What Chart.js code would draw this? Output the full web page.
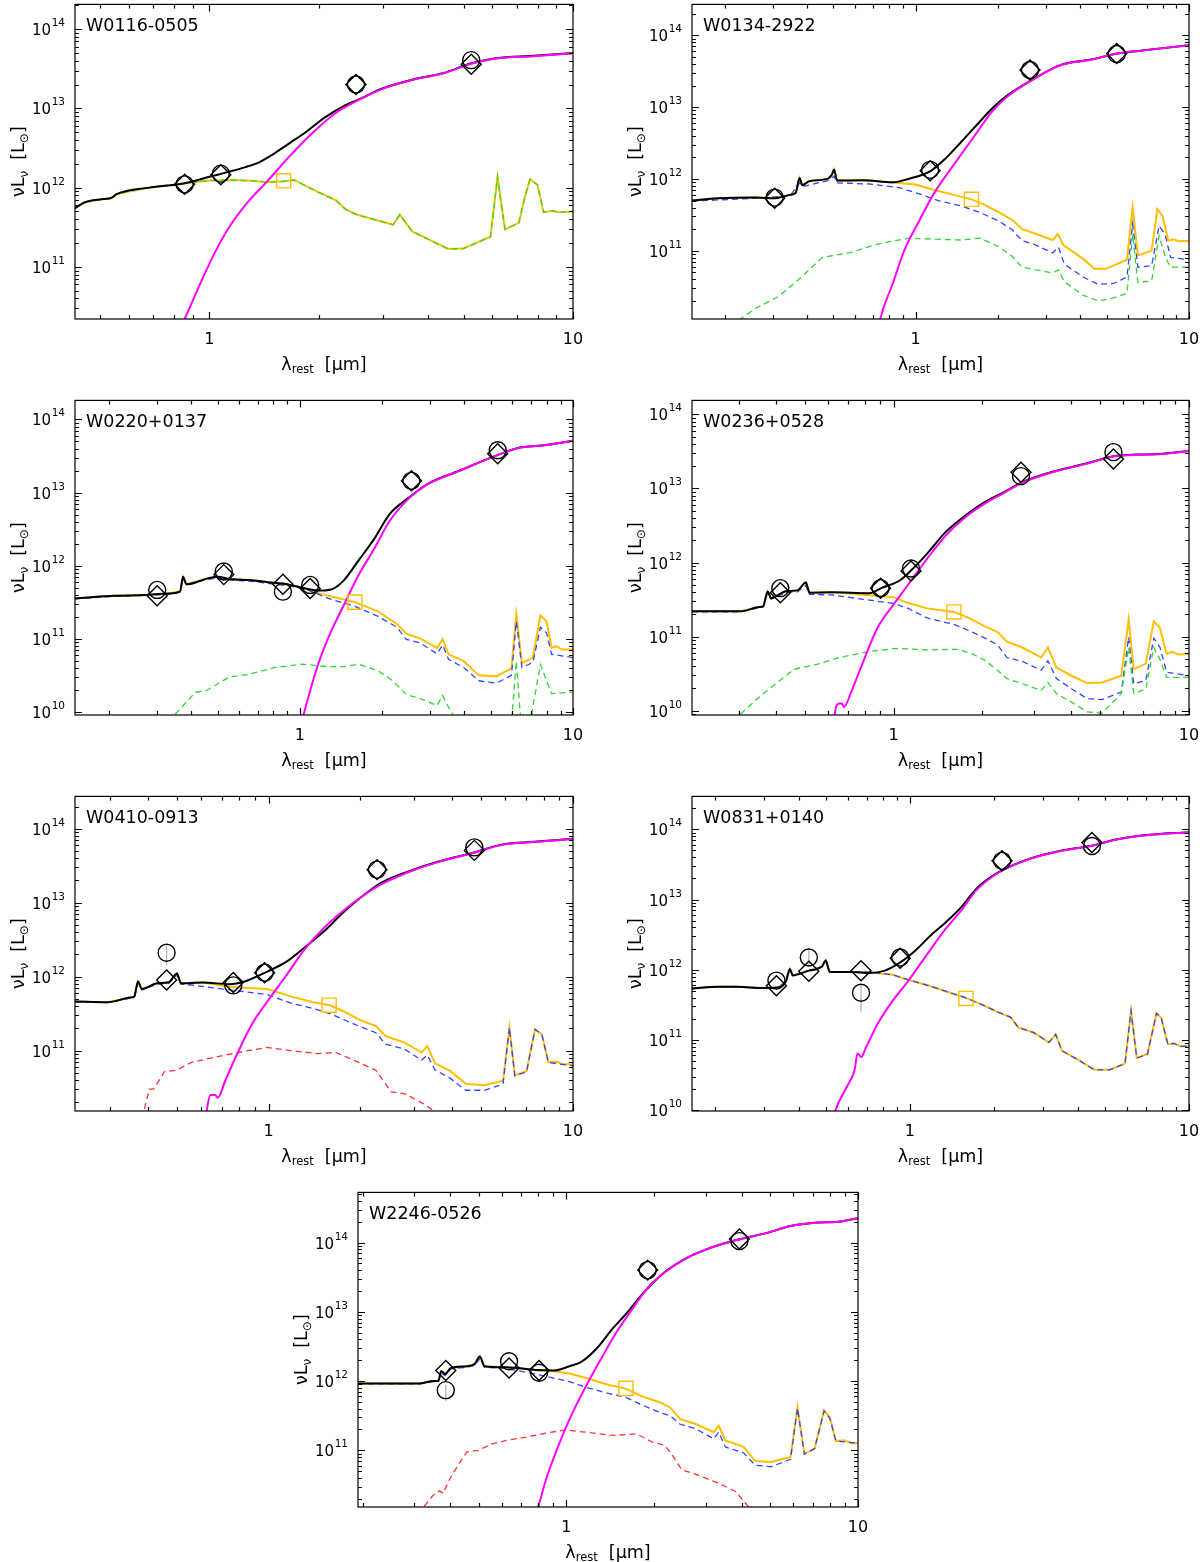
<!DOCTYPE html>
<html>
<head>
<meta charset="utf-8">
<script src="https://cdn.jsdelivr.net/npm/chart.js@4.4.1/dist/chart.umd.min.js"></script>
<style>
  html, body { margin: 0; padding: 0; background: #fff; }
  #page { position: relative; width: 1200px; height: 1562px; background: #fff; overflow: hidden; }
  .panel { position: absolute; }
</style>
</head>
<body>
<div id="page"></div>
<script>
// ---- tick labels ----
const yDecades = [1e9, 1e10, 1e11, 1e12, 1e13, 1e14, 1e15]
const yDecadeExp = ['9', '10', '11', '12', '13', '14', '15']
const xDecades = [0.1, 1, 10]
const xDecadeLabels = ['0.1', '1', '10']
const minorSteps = [2, 3, 4, 5, 6, 7, 8, 9]

// ---- W0116-0505 ----
const w0116HostLam = [0.427, 0.453, 0.50, 0.537, 0.556, 0.683, 0.85, 0.98, 1.13, 1.31, 1.44, 1.6, 1.71, 1.98, 2.23, 2.37, 2.54, 3.2, 3.34, 3.61, 4.54, 4.99, 5.93, 6.2, 6.5, 7.1, 7.36, 7.62, 7.99, 8.3, 8.8, 9.1, 10]
const w0116Host = [5.5e11, 6.5e11, 7.1e11, 7.4e11, 8.3e11, 1.0e12, 1.13e12, 1.22e12, 1.25e12, 1.22e12, 1.17e12, 1.2e12, 1.25e12, 8.9e11, 6.9e11, 5.3e11, 4.57e11, 3.4e11, 4.57e11, 2.8e11, 1.68e11, 1.7e11, 2.4e11, 1.37e12, 2.97e11, 3.6e11, 7.4e11, 1.28e12, 1.08e12, 4.9e11, 5.1e11, 4.9e11, 5.0e11]
const w0116TotLam = [0.427, 0.453, 0.50, 0.537, 0.556, 0.683, 0.85, 1.0, 1.13, 1.25, 1.375, 1.48, 1.67, 1.84, 2.07, 2.34, 2.57, 2.98, 3.61, 4.38, 5.25, 6.14, 7.8, 10]
const w0116Tot = [5.5e11, 6.5e11, 7.1e11, 7.4e11, 8.3e11, 1.0e12, 1.13e12, 1.37e12, 1.58e12, 1.8e12, 2.1e12, 2.55e12, 3.7e12, 5.0e12, 7.6e12, 1.07e13, 1.29e13, 1.77e13, 2.3e13, 2.77e13, 3.7e13, 4.3e13, 4.6e13, 5.0e13]
const w0116AgnLam = [0.82, 0.855, 0.935, 1.03, 1.13, 1.28, 1.44, 1.67, 1.93, 2.23, 2.57, 2.98, 3.61, 4.38, 5.25, 6.14, 7.8, 10]
const w0116Agn = [1.5e10, 2.2e10, 5.6e10, 1.45e11, 3.1e11, 6.7e11, 1.19e12, 2.55e12, 5.0e12, 8.8e12, 1.27e13, 1.75e13, 2.28e13, 2.75e13, 3.65e13, 4.25e13, 4.55e13, 4.95e13]
const w0116PhotLam = [0.855, 1.075, 2.53, 5.25]
const w0116Circ = [1.1e12, 1.5e12, 2.0e13, 4.06e13]
const w0116Diam = [1.1e12, 1.45e12, 2.0e13, 3.6e13]
const w0116SqLam = [1.6]
const w0116Sq = [1.22e12]

// ---- W0134-2922 ----
const w0134TotLam = [0.152, 0.189, 0.26, 0.305, 0.347, 0.364, 0.376, 0.385, 0.408, 0.478, 0.494, 0.503, 0.516, 0.64, 0.825, 0.94, 1.137, 1.29, 1.47, 1.67, 1.90, 2.16, 2.62, 3.38, 4.37, 5.47, 6.85, 10]
const w0134Tot = [5.0e11, 5.4e11, 5.5e11, 5.4e11, 6.0e11, 6.4e11, 1.03e12, 8.2e11, 9.3e11, 1.01e12, 1.15e12, 1.35e12, 9.5e11, 9.6e11, 9.0e11, 1.0e12, 1.3e12, 1.95e12, 3.3e12, 5.6e12, 9.5e12, 1.45e13, 2.3e13, 3.85e13, 4.6e13, 5.6e13, 6.2e13, 7.3e13]
const w0134AgnLam = [0.73, 0.742, 0.825, 0.908, 1.03, 1.17, 1.38, 1.62, 1.90, 2.16, 2.62, 3.38, 4.37, 5.47, 6.85, 10]
const w0134Agn = [8e9, 1.12e10, 3.5e10, 1.0e11, 2.6e11, 6.4e11, 1.58e12, 3.7e12, 8.6e12, 1.4e13, 2.28e13, 3.83e13, 4.58e13, 5.58e13, 6.18e13, 7.28e13]
const w0134HostLam = [0.152, 0.189, 0.26, 0.305, 0.347, 0.364, 0.376, 0.385, 0.408, 0.478, 0.494, 0.503, 0.516, 0.64, 0.725, 1.0, 1.17, 1.38, 1.6, 1.78, 2.03, 2.26, 2.45, 2.70, 3.17, 3.31, 3.47, 4.10, 4.51, 4.97, 5.93, 6.22, 6.5, 7.3, 7.66, 8.0, 8.4, 8.8, 9.2, 10]
const w0134Host = [5.0e11, 5.4e11, 5.5e11, 5.4e11, 6.0e11, 6.4e11, 1.03e12, 8.2e11, 9.3e11, 1.01e12, 1.15e12, 1.35e12, 9.5e11, 9.6e11, 9.3e11, 8.35e11, 7.0e11, 6.0e11, 5.2e11, 4.4e11, 3.4e11, 2.67e11, 2.0e11, 1.77e11, 1.41e11, 1.71e11, 1.2e11, 7.7e10, 5.6e10, 5.6e10, 7.5e10, 4.0e11, 8.6e10, 1.0e11, 3.8e11, 3.05e11, 1.38e11, 1.43e11, 1.36e11, 1.38e11]
const w0134OldLam = [0.152, 0.26, 0.347, 0.376, 0.385, 0.478, 0.503, 0.516, 0.68, 0.88, 1.03, 1.21, 1.47, 1.72, 2.03, 2.26, 2.45, 2.70, 3.17, 3.33, 3.5, 4.1, 4.66, 5.3, 5.93, 6.22, 6.5, 7.3, 7.77, 8.17, 8.56, 10]
const w0134Old = [4.9e11, 5.4e11, 5.8e11, 8.8e11, 7.8e11, 9.5e11, 1.09e12, 8.8e11, 8.5e11, 7.5e11, 6.2e11, 5.0e11, 4.2e11, 3.4e11, 2.55e11, 1.94e11, 1.38e11, 1.24e11, 9.3e10, 1.12e11, 6.5e10, 4.3e10, 3.4e10, 3.5e10, 4.3e10, 2.35e11, 5.9e10, 6.2e10, 2.22e11, 1.7e11, 8.1e10, 7.5e10]
const w0134YoungLam = [0.21, 0.26, 0.315, 0.382, 0.456, 0.58, 0.725, 0.94, 1.17, 1.47, 1.72, 2.03, 2.26, 2.45, 3.17, 3.33, 3.5, 4.1, 4.66, 5.3, 5.93, 6.22, 6.5, 7.3, 7.77, 8.2, 8.56, 10]
const w0134Young = [9e9, 1.58e10, 2.3e10, 4.3e10, 8.1e10, 9.5e10, 1.24e11, 1.5e11, 1.45e11, 1.41e11, 1.5e11, 1.12e11, 8.3e10, 5.9e10, 4.9e10, 5.4e10, 3.7e10, 2.4e10, 2.0e10, 2.2e10, 2.55e10, 1.7e11, 3.6e10, 3.8e10, 1.62e11, 8.1e10, 5.9e10, 5.9e10]
const w0134PhotLam = [0.305, 1.13, 2.62, 5.44]
const w0134Circ = [5.5e11, 1.34e12, 3.3e13, 5.5e13]
const w0134Diam = [5.4e11, 1.3e12, 3.3e13, 5.6e13]
const w0134SqLam = [1.6]
const w0134Sq = [5.2e11]

// ---- W0220+0137 ----
const w0220TotLam = [0.15, 0.21, 0.27, 0.33, 0.364, 0.373, 0.384, 0.456, 0.50, 0.553, 0.65, 0.76, 0.92, 1.05, 1.19, 1.31, 1.45, 1.64, 1.87, 2.13, 2.5, 2.93, 3.79, 5.23, 6.34, 7.7, 10]
const w0220Tot = [3.6e11, 3.9e11, 4.0e11, 4.2e11, 4.5e11, 7.1e11, 5.6e11, 6.7e11, 7.1e11, 6.6e11, 6.4e11, 6.0e11, 5.5e11, 4.9e11, 4.6e11, 4.8e11, 6.4e11, 1.19e12, 2.34e12, 5.1e12, 8.5e12, 1.31e13, 1.96e13, 3.21e13, 4.1e13, 4.4e13, 5.1e13]
const w0220AgnLam = [1.0, 1.03, 1.155, 1.27, 1.45, 1.64, 1.87, 2.13, 2.5, 2.93, 3.79, 5.23, 6.34, 7.7, 10]
const w0220Agn = [6e9, 9.2e9, 4.1e10, 1.04e11, 2.95e11, 7.5e11, 1.71e12, 4.1e12, 8.3e12, 1.3e13, 1.95e13, 3.2e13, 4.1e13, 4.4e13, 5.1e13]
const w0220HostLam = [0.15, 0.21, 0.27, 0.33, 0.364, 0.373, 0.384, 0.456, 0.50, 0.553, 0.65, 0.76, 0.92, 1.05, 1.12, 1.27, 1.59, 1.93, 2.27, 2.45, 2.75, 3.18, 3.33, 3.5, 3.98, 4.52, 5.23, 5.95, 6.2, 6.5, 7.13, 7.6, 8.0, 8.35, 8.7, 9.1, 10]
const w0220Host = [3.6e11, 3.9e11, 4.0e11, 4.2e11, 4.5e11, 7.1e11, 5.6e11, 6.7e11, 7.1e11, 6.6e11, 6.4e11, 6.0e11, 5.5e11, 4.9e11, 4.45e11, 3.9e11, 3.2e11, 2.4e11, 1.6e11, 1.19e11, 1.02e11, 7.6e10, 1.0e11, 6.2e10, 5.0e10, 3.2e10, 3.1e10, 4.0e10, 2.2e11, 4.7e10, 5.6e10, 2.1e11, 1.75e11, 7.6e10, 8.0e10, 7.2e10, 7.2e10]
const w0220OldLam = [0.15, 0.21, 0.27, 0.33, 0.364, 0.373, 0.384, 0.456, 0.50, 0.553, 0.65, 0.76, 0.92, 1.05, 1.27, 1.59, 1.93, 2.27, 2.45, 2.75, 3.18, 3.33, 3.5, 3.98, 4.52, 5.23, 5.95, 6.2, 6.5, 7.13, 7.6, 8.0, 8.35, 10]
const w0220Old = [3.55e11, 3.85e11, 3.95e11, 4.1e11, 4.4e11, 6.8e11, 5.5e11, 6.5e11, 6.9e11, 6.4e11, 6.2e11, 5.8e11, 5.3e11, 4.8e11, 3.6e11, 2.8e11, 2.05e11, 1.45e11, 9.9e10, 8.9e10, 6.3e10, 8.3e10, 5.3e10, 4.1e10, 2.7e10, 2.5e10, 3.2e10, 1.75e11, 4.1e10, 4.8e10, 1.45e11, 1.22e11, 6.2e10, 5.6e10]
const w0220YoungLam = [0.34, 0.347, 0.414, 0.456, 0.553, 0.65, 0.81, 1.02, 1.27, 1.45, 1.64, 1.93, 2.19, 2.45, 2.75, 3.18, 3.33, 3.5, 3.8, 5.95, 6.2, 6.45, 7.0, 7.13, 7.6, 8.0, 8.35, 10]
const w0220Young = [7e9, 9.2e9, 1.88e10, 2.0e10, 3.06e10, 3.3e10, 4.1e10, 4.55e10, 4.2e10, 4.2e10, 4.55e10, 3.7e10, 2.7e10, 1.75e10, 1.55e10, 1.24e10, 1.7e10, 1.18e10, 7e9, 7e9, 5.0e10, 7e9, 7e9, 1.2e10, 4.5e10, 2.7e10, 1.8e10, 1.9e10]
const w0220PhotLam = [0.30, 0.526, 0.866, 1.09, 2.56, 5.3]
const w0220Circ = [4.7e11, 8.4e11, 4.45e11, 5.5e11, 1.45e13, 3.8e13]
const w0220Diam = [3.9e11, 7.6e11, 5.6e11, 4.9e11, 1.45e13, 3.4e13]
const w0220SqLam = [1.59]
const w0220Sq = [3.2e11]

// ---- W0236+0528 ----
const w0236TotLam = [0.208, 0.254, 0.304, 0.352, 0.362, 0.375, 0.385, 0.433, 0.473, 0.505, 0.52, 0.618, 0.83, 0.91, 1.055, 1.15, 1.30, 1.5, 1.75, 2.03, 2.35, 2.73, 3.45, 4.38, 5.55, 6.63, 7.9, 10]
const w0236Tot = [2.2e11, 2.2e11, 2.2e11, 2.5e11, 2.55e11, 4.06e11, 3.3e11, 4.1e11, 4.2e11, 5.35e11, 3.9e11, 3.95e11, 3.85e11, 4.5e11, 5.8e11, 7.9e11, 1.32e12, 2.57e12, 4.3e12, 6.5e12, 8.8e12, 1.22e13, 1.68e13, 2.12e13, 2.72e13, 2.87e13, 2.92e13, 3.22e13]
const w0236AgnLam = [0.63, 0.64, 0.656, 0.668, 0.68, 0.72, 0.784, 0.883, 1.0, 1.12, 1.30, 1.5, 1.75, 2.03, 2.35, 2.73, 3.45, 4.38, 5.55, 6.63, 7.9, 10]
const w0236Agn = [8e9, 1.15e10, 1.24e10, 1.24e10, 1.12e10, 1.8e10, 4.25e10, 1.31e11, 2.7e11, 5.0e11, 1.13e12, 2.3e12, 4.1e12, 6.2e12, 8.6e12, 1.2e13, 1.66e13, 2.1e13, 2.7e13, 2.85e13, 2.9e13, 3.2e13]
const w0236HostLam = [0.208, 0.254, 0.304, 0.352, 0.362, 0.375, 0.385, 0.433, 0.473, 0.505, 0.52, 0.618, 0.656, 0.83, 1.0, 1.12, 1.30, 1.6, 1.8, 2.03, 2.25, 2.42, 2.73, 3.16, 3.33, 3.56, 4.0, 4.52, 5.08, 5.9, 6.25, 6.5, 7.14, 7.6, 7.98, 8.4, 8.8, 9.2, 10]
const w0236Host = [2.2e11, 2.2e11, 2.2e11, 2.5e11, 2.55e11, 4.06e11, 3.3e11, 4.1e11, 4.2e11, 5.35e11, 3.9e11, 3.95e11, 3.9e11, 3.6e11, 3.4e11, 2.83e11, 2.4e11, 2.15e11, 1.78e11, 1.38e11, 1.15e11, 8.5e10, 7.1e10, 5.2e10, 7.1e10, 3.8e10, 2.95e10, 2.35e10, 2.4e10, 2.95e10, 1.7e11, 3.6e10, 4.3e10, 1.6e11, 1.3e11, 5.8e10, 6.2e10, 5.7e10, 5.8e10]
const w0236OldLam = [0.208, 0.304, 0.352, 0.362, 0.375, 0.385, 0.433, 0.473, 0.505, 0.52, 0.618, 0.83, 1.0, 1.12, 1.30, 1.6, 1.8, 2.03, 2.25, 2.42, 2.73, 3.16, 3.33, 3.56, 4.0, 4.52, 5.08, 5.9, 6.25, 6.5, 7.14, 7.6, 7.98, 8.4, 10]
const w0236Old = [2.15e11, 2.15e11, 2.45e11, 2.5e11, 3.85e11, 3.2e11, 3.95e11, 4.0e11, 4.9e11, 3.7e11, 3.65e11, 3.1e11, 2.8e11, 2.4e11, 1.78e11, 1.46e11, 1.2e11, 9.6e10, 7.7e10, 5.2e10, 4.6e10, 3.5e10, 4.7e10, 2.7e10, 1.97e10, 1.45e10, 1.4e10, 1.78e10, 9.8e10, 2.3e10, 2.55e10, 9.5e10, 7.1e10, 3.3e10, 2.95e10]
const w0236YoungLam = [0.29, 0.30, 0.362, 0.46, 0.55, 0.656, 0.83, 1.02, 1.30, 1.65, 1.85, 2.03, 2.25, 2.42, 2.73, 3.16, 3.33, 3.56, 4.0, 4.52, 5.08, 5.9, 6.25, 6.5, 7.14, 7.6, 7.98, 8.4, 10]
const w0236Young = [7e9, 8.6e9, 1.69e10, 3.6e10, 4.2e10, 5.2e10, 6.3e10, 6.9e10, 6.6e10, 6.7e10, 5.8e10, 4.8e10, 3.5e10, 2.7e10, 2.3e10, 1.87e10, 2.4e10, 1.69e10, 1.3e10, 9.6e9, 9.2e9, 1.69e10, 7.1e10, 1.7e10, 1.95e10, 7.1e10, 4.9e10, 2.8e10, 2.8e10]
const w0236PhotLam = [0.414, 0.904, 1.146, 2.70, 5.55]
const w0236Circ = [4.5e11, 4.5e11, 8.3e11, 1.47e13, 3.1e13]
const w0236Diam = [3.9e11, 4.5e11, 7.7e11, 1.66e13, 2.5e13]
const w0236SqLam = [1.6]
const w0236Sq = [2.15e11]

// ---- W0410-0913 ----
const w0410TotLam = [0.231, 0.295, 0.351, 0.362, 0.372, 0.383, 0.43, 0.47, 0.50, 0.515, 0.607, 0.743, 0.834, 0.99, 1.145, 1.32, 1.53, 1.76, 2.04, 2.35, 2.96, 3.62, 4.7, 5.9, 7.45, 10]
const w0410Tot = [4.6e11, 4.5e11, 5.2e11, 5.4e11, 8.6e11, 6.8e11, 8.1e11, 8.4e11, 1.1e12, 8.1e11, 8.3e11, 7.9e11, 8.6e11, 1.17e12, 1.59e12, 2.52e12, 4.2e12, 7.4e12, 1.24e13, 1.87e13, 2.75e13, 3.6e13, 4.75e13, 6.15e13, 6.65e13, 7.35e13]
const w0410AgnLam = [0.62, 0.625, 0.643, 0.667, 0.68, 0.72, 0.787, 0.88, 0.99, 1.145, 1.32, 1.53, 1.76, 2.04, 2.35, 2.96, 3.62, 4.7, 5.9, 7.45, 10]
const w0410Agn = [1.2e10, 1.5e10, 2.5e10, 2.5e10, 2.3e10, 3.9e10, 8.9e10, 2.25e11, 4.6e11, 1.05e12, 2.4e12, 4.7e12, 7.8e12, 1.24e13, 1.78e13, 2.7e13, 3.56e13, 4.7e13, 6.1e13, 6.6e13, 7.3e13]
const w0410HostLam = [0.231, 0.295, 0.351, 0.362, 0.372, 0.383, 0.43, 0.47, 0.50, 0.515, 0.607, 0.743, 0.858, 0.99, 1.18, 1.40, 1.59, 1.76, 1.98, 2.25, 2.42, 2.80, 3.18, 3.32, 3.52, 3.95, 4.44, 5.12, 5.89, 6.18, 6.44, 7.04, 7.5, 7.9, 8.3, 8.8, 9.3, 10]
const w0410Host = [4.6e11, 4.5e11, 5.2e11, 5.4e11, 8.6e11, 6.8e11, 8.1e11, 8.4e11, 1.1e12, 8.1e11, 8.3e11, 7.3e11, 7.0e11, 6.8e11, 5.4e11, 4.5e11, 4.1e11, 3.4e11, 2.63e11, 2.14e11, 1.57e11, 1.28e11, 9.4e10, 1.15e11, 6.7e10, 5.3e10, 3.55e10, 3.4e10, 3.9e10, 2.04e11, 4.6e10, 5.3e10, 1.93e11, 1.66e11, 6.9e10, 7.1e10, 6.5e10, 6.5e10]
const w0410OldLam = [0.231, 0.295, 0.351, 0.362, 0.372, 0.383, 0.43, 0.47, 0.50, 0.515, 0.557, 0.743, 0.99, 1.18, 1.40, 1.59, 1.76, 1.98, 2.25, 2.42, 2.80, 3.18, 3.32, 3.52, 3.95, 4.44, 5.12, 5.89, 6.18, 6.44, 7.04, 7.5, 7.9, 8.3, 10]
const w0410Old = [4.55e11, 4.45e11, 5.1e11, 5.3e11, 8.3e11, 6.6e11, 7.9e11, 8.1e11, 1.05e12, 7.9e11, 7.7e11, 6.6e11, 5.7e11, 4.4e11, 3.7e11, 3.16e11, 2.63e11, 2.14e11, 1.74e11, 1.22e11, 1.04e11, 7.4e10, 8.7e10, 5.5e10, 4.2e10, 2.9e10, 2.9e10, 3.5e10, 2.04e11, 4.5e10, 5.2e10, 1.93e11, 1.66e11, 6.9e10, 6.2e10]
const w0410ObscLam = [0.385, 0.389, 0.405, 0.418, 0.455, 0.497, 0.557, 0.662, 0.743, 0.858, 0.99, 1.18, 1.44, 1.66, 1.92, 2.25, 2.53, 2.80, 3.23, 3.6, 4.2]
const w0410Obsc = [1.2e10, 1.5e10, 3.0e10, 3.0e10, 5.2e10, 5.4e10, 6.9e10, 8.1e10, 8.9e10, 1.0e11, 1.1e11, 1.0e11, 9.1e10, 9.4e10, 7.3e10, 5.4e10, 2.75e10, 2.6e10, 1.9e10, 1.4e10, 9e9]
const w0410PhotLam = [0.462, 0.765, 0.97, 2.27, 4.74]
const w0410Circ = [2.1e12, 7.6e11, 1.13e12, 2.8e13, 5.6e13]
const w0410Diam = [9.0e11, 8.3e11, 1.13e12, 2.8e13, 5.1e13]
const w0410SqLam = [1.58]
const w0410Sq = [4.1e11]
const w0410ErrLam = [0.462]
const w0410ErrLo = [1.43e12]
const w0410ErrHi = [2.6e12]

// ---- W0831+0140 ----
const w0831TotLam = [0.166, 0.205, 0.24, 0.298, 0.338, 0.36, 0.372, 0.381, 0.435, 0.485, 0.50, 0.517, 0.615, 0.72, 0.815, 0.924, 1.05, 1.19, 1.35, 1.53, 1.73, 2.09, 2.69, 3.45, 4.44, 5.54, 6.9, 10]
const w0831Tot = [5.4e11, 5.7e11, 5.7e11, 5.5e11, 5.6e11, 6.8e11, 1.02e12, 8.3e11, 9.7e11, 1.11e12, 1.35e12, 9.3e11, 9.3e11, 9.0e11, 9.7e11, 1.27e12, 1.9e12, 3.1e12, 4.8e12, 7.8e12, 1.42e13, 2.47e13, 3.82e13, 4.92e13, 5.82e13, 7.22e13, 8.22e13, 9.12e13]
const w0831AgnLam = [0.53, 0.542, 0.595, 0.634, 0.65, 0.67, 0.697, 0.766, 0.868, 0.984, 1.15, 1.35, 1.53, 1.73, 2.09, 2.69, 3.45, 4.44, 5.54, 6.9, 10]
const w0831Agn = [7e9, 1.0e10, 2.14e10, 3.7e10, 6.4e10, 5.7e10, 7.8e10, 1.67e11, 3.6e11, 6.8e11, 1.63e12, 3.9e12, 7.0e12, 1.35e13, 2.45e13, 3.8e13, 4.9e13, 5.8e13, 7.2e13, 8.2e13, 9.1e13]
const w0831HostLam = [0.166, 0.205, 0.24, 0.298, 0.338, 0.36, 0.372, 0.381, 0.435, 0.485, 0.50, 0.517, 0.615, 0.72, 0.868, 0.984, 1.19, 1.35, 1.58, 1.84, 2.09, 2.30, 2.45, 2.77, 3.15, 3.33, 3.51, 4.04, 4.59, 5.2, 5.9, 6.2, 6.5, 7.1, 7.65, 7.95, 8.4, 8.85, 9.3, 10]
const w0831Host = [5.4e11, 5.7e11, 5.7e11, 5.5e11, 5.6e11, 6.8e11, 1.02e12, 8.3e11, 9.7e11, 1.11e12, 1.35e12, 9.3e11, 9.3e11, 9.2e11, 8.5e11, 7.2e11, 5.8e11, 4.9e11, 4.0e11, 3.1e11, 2.45e11, 2.1e11, 1.5e11, 1.28e11, 9.2e10, 1.2e11, 7.0e10, 5.1e10, 3.75e10, 3.75e10, 4.6e10, 2.6e11, 5.5e10, 6.3e10, 2.4e11, 2.07e11, 8.7e10, 8.9e10, 8.1e10, 8.1e10]
const w0831PhotLam = [0.333, 0.435, 0.669, 0.924, 2.14, 4.49]
const w0831Circ = [7.0e11, 1.49e12, 4.7e11, 1.49e12, 3.56e13, 5.8e13]
const w0831Diam = [5.9e11, 9.5e11, 9.7e11, 1.46e12, 3.56e13, 6.5e13]
const w0831SqLam = [1.59]
const w0831Sq = [3.9e11]
const w0831ErrLam = [0.435, 0.669]
const w0831ErrLo = [1.11e12, 2.45e11]
const w0831ErrHi = [1.9e12, 6.1e11]

// ---- W2246-0526 ----
const w2246TotLam = [0.193, 0.244, 0.313, 0.35, 0.364, 0.372, 0.384, 0.402, 0.456, 0.485, 0.505, 0.524, 0.622, 0.80, 0.905, 1.025, 1.125, 1.275, 1.445, 1.59, 1.85, 2.17, 2.61, 3.15, 3.80, 4.88, 5.87, 7.1, 8.57, 10]
const w2246Tot = [9.2e11, 9.2e11, 9.2e11, 1.0e12, 1.0e12, 1.39e12, 1.27e12, 1.55e12, 1.64e12, 1.77e12, 2.27e12, 1.64e12, 1.58e12, 1.44e12, 1.42e12, 1.64e12, 1.89e12, 3.0e12, 5.8e12, 9.0e12, 1.93e13, 3.72e13, 6.12e13, 8.52e13, 1.08e14, 1.38e14, 1.73e14, 1.93e14, 2.0e14, 2.24e14]
const w2246AgnLam = [0.78, 0.80, 0.85, 0.934, 1.025, 1.16, 1.32, 1.49, 1.69, 1.91, 2.17, 2.61, 3.15, 3.80, 4.88, 5.87, 7.1, 8.57, 10]
const w2246Agn = [1.1e10, 1.5e10, 3.7e10, 1.1e11, 2.8e11, 8.0e11, 2.15e12, 5.2e12, 1.12e13, 2.28e13, 3.7e13, 6.1e13, 8.5e13, 1.08e14, 1.38e14, 1.73e14, 1.93e14, 2.0e14, 2.24e14]
const w2246HostLam = [0.193, 0.244, 0.313, 0.35, 0.364, 0.372, 0.384, 0.402, 0.456, 0.485, 0.505, 0.524, 0.622, 0.80, 0.905, 1.025, 1.16, 1.40, 1.59, 1.80, 2.10, 2.27, 2.45, 2.78, 3.2, 3.33, 3.51, 4.05, 4.44, 5.03, 5.87, 6.2, 6.55, 7.1, 7.65, 8.0, 8.4, 8.95, 9.5, 10]
const w2246Host = [9.2e11, 9.2e11, 9.2e11, 1.0e12, 1.0e12, 1.39e12, 1.27e12, 1.55e12, 1.64e12, 1.77e12, 2.27e12, 1.64e12, 1.58e12, 1.42e12, 1.39e12, 1.29e12, 1.12e12, 8.8e11, 7.85e11, 6.1e11, 4.9e11, 4.16e11, 2.84e11, 2.4e11, 1.83e11, 2.27e11, 1.39e11, 1.12e11, 7.0e10, 6.8e10, 8.0e10, 4.16e11, 8.9e10, 1.06e11, 3.8e11, 3.0e11, 1.36e11, 1.4e11, 1.27e11, 1.27e11]
const w2246OldLam = [0.193, 0.313, 0.35, 0.364, 0.372, 0.384, 0.402, 0.456, 0.485, 0.505, 0.524, 0.622, 0.80, 1.025, 1.16, 1.40, 1.59, 1.80, 2.10, 2.27, 2.45, 2.78, 3.2, 3.33, 3.51, 4.05, 4.44, 5.03, 5.87, 6.2, 6.55, 7.1, 7.65, 8.0, 8.4, 10]
const w2246Old = [9.1e11, 9.1e11, 9.8e11, 9.8e11, 1.3e12, 1.2e12, 1.5e12, 1.58e12, 1.7e12, 2.1e12, 1.58e12, 1.52e12, 1.24e12, 9.8e11, 8.2e11, 6.6e11, 5.9e11, 4.6e11, 3.5e11, 3.16e11, 2.4e11, 2.04e11, 1.47e11, 1.83e11, 1.12e11, 9.2e10, 6.1e10, 5.8e10, 7.4e10, 4.07e11, 8.8e10, 1.06e11, 3.7e11, 2.93e11, 1.36e11, 1.27e11]
const w2246ObscLam = [0.31, 0.323, 0.35, 0.367, 0.378, 0.396, 0.428, 0.456, 0.50, 0.55, 0.622, 0.727, 0.85, 0.994, 1.16, 1.445, 1.74, 1.97, 2.17, 2.27, 2.49, 2.78, 3.36, 3.80, 4.23, 4.5]
const w2246Obsc = [1.2e10, 1.5e10, 2.27e10, 2.6e10, 2.4e10, 3.7e10, 6.4e10, 9.5e10, 1.0e11, 1.22e11, 1.39e11, 1.55e11, 1.77e11, 1.97e11, 1.83e11, 1.64e11, 1.73e11, 1.32e11, 1.18e11, 9.5e10, 5.2e10, 4.5e10, 3.3e10, 2.55e10, 1.5e10, 1.1e10]
const w2246PhotLam = [0.386, 0.636, 0.806, 1.90, 3.92]
const w2246Circ = [7.4e11, 1.93e12, 1.32e12, 4.0e13, 1.05e14]
const w2246Diam = [1.42e12, 1.55e12, 1.42e12, 4.0e13, 1.13e14]
const w2246SqLam = [1.60]
const w2246Sq = [7.85e11]
const w2246ErrLam = [0.386]
const w2246ErrLo = [5.2e11]
const w2246ErrHi = [8.9e11]

// colores
const ORANGE = '#ffbf00'
const BLUE = '#3344ff'
const GREEN = '#33d633'
const RED = '#ff3333'
const MAGENTA = '#ff00ff'
const FONT = '"DejaVu Sans", "Liberation Sans", sans-serif'

const lineSet = (lam, val, color, dashed, order, smooth) => ({
    data: lam.map((l, i) => ({ x: l, y: val[i] })),
    showLine: true,
    borderColor: color,
    borderWidth: dashed ? 1.3 : 2,
    borderDash: dashed ? [6, 4] : [],
    cubicInterpolationMode: smooth ? 'monotone' : 'default',
    pointRadius: 0,
    fill: false,
    order
})
const markSet = (lam, val, style, radius, color) => ({
    data: lam.map((l, i) => ({ x: l, y: val[i] })),
    showLine: false,
    pointStyle: style,
    pointRadius: radius,
    borderColor: color,
    borderWidth: 1.4,
    backgroundColor: 'rgba(0,0,0,0)',
    order: 0
})
// curvas: host naranja, viejo azul, joven verde/rojo, total negro, AGN magenta
const modelSets = (host, old, young, youngColor, tot, agn) => {
    const sets = [lineSet(host[0], host[1], ORANGE, false, 5)]
    if (old) sets.push(lineSet(old[0], old[1], BLUE, true, 4))
    if (young) sets.push(lineSet(young[0], young[1], youngColor, true, 3))
    sets.push(lineSet(tot[0], tot[1], '#000', false, 2, true))
    sets.push(lineSet(agn[0], agn[1], MAGENTA, false, 1, true))
    return sets
}
const photSets = (lam, circ, diam, sqLam, sq) => [
    markSet(lam, circ, 'circle', 8.5, '#000'),
    markSet(lam, diam, 'rectRot', 10, '#000'),
    markSet(sqLam, sq, 'rect', 10, ORANGE)
]

const panels = [
    { name: 'W0116-0505', box: [75, 1, 573, 319], x: [0.427, 10], y: [2.2e10, 2.05e14],
      sets: [...modelSets([w0116HostLam, w0116Host], null, [w0116HostLam, w0116Host], GREEN, [w0116TotLam, w0116Tot], [w0116AgnLam, w0116Agn]),
             ...photSets(w0116PhotLam, w0116Circ, w0116Diam, w0116SqLam, w0116Sq)] },
    { name: 'W0134-2922', box: [692, 1, 1189, 319], x: [0.152, 10], y: [1.12e10, 2.7e14],
      sets: [...modelSets([w0134HostLam, w0134Host], [w0134OldLam, w0134Old], [w0134YoungLam, w0134Young], GREEN, [w0134TotLam, w0134Tot], [w0134AgnLam, w0134Agn]),
             ...photSets(w0134PhotLam, w0134Circ, w0134Diam, w0134SqLam, w0134Sq)] },
    { name: 'W0220+0137', box: [75, 397, 573, 715], x: [0.150, 10], y: [9.2e9, 1.82e14],
      sets: [...modelSets([w0220HostLam, w0220Host], [w0220OldLam, w0220Old], [w0220YoungLam, w0220Young], GREEN, [w0220TotLam, w0220Tot], [w0220AgnLam, w0220Agn]),
             ...photSets(w0220PhotLam, w0220Circ, w0220Diam, w0220SqLam, w0220Sq)] },
    { name: 'W0236+0528', box: [692, 397, 1189, 715], x: [0.208, 10], y: [8.7e9, 1.55e14],
      sets: [...modelSets([w0236HostLam, w0236Host], [w0236OldLam, w0236Old], [w0236YoungLam, w0236Young], GREEN, [w0236TotLam, w0236Tot], [w0236AgnLam, w0236Agn]),
             ...photSets(w0236PhotLam, w0236Circ, w0236Diam, w0236SqLam, w0236Sq)] },
    { name: 'W0410-0913', box: [75, 793, 573, 1111], x: [0.231, 10], y: [1.52e10, 2.74e14],
      err: [w0410ErrLam, w0410ErrLo, w0410ErrHi],
      sets: [...modelSets([w0410HostLam, w0410Host], [w0410OldLam, w0410Old], [w0410ObscLam, w0410Obsc], RED, [w0410TotLam, w0410Tot], [w0410AgnLam, w0410Agn]),
             ...photSets(w0410PhotLam, w0410Circ, w0410Diam, w0410SqLam, w0410Sq)] },
    { name: 'W0831+0140', box: [692, 793, 1189, 1111], x: [0.166, 10], y: [9.7e9, 2.95e14],
      err: [w0831ErrLam, w0831ErrLo, w0831ErrHi],
      sets: [...modelSets([w0831HostLam, w0831Host], [w0831HostLam, w0831Host], null, null, [w0831TotLam, w0831Tot], [w0831AgnLam, w0831Agn]),
             ...photSets(w0831PhotLam, w0831Circ, w0831Diam, w0831SqLam, w0831Sq)] },
    { name: 'W2246-0526', box: [358, 1189, 858, 1507], x: [0.193, 10], y: [1.52e10, 5.3e14],
      err: [w2246ErrLam, w2246ErrLo, w2246ErrHi],
      sets: [...modelSets([w2246HostLam, w2246Host], [w2246OldLam, w2246Old], [w2246ObscLam, w2246Obsc], RED, [w2246TotLam, w2246Tot], [w2246AgnLam, w2246Agn]),
             ...photSets(w2246PhotLam, w2246Circ, w2246Diam, w2246SqLam, w2246Sq)] }
]

const PAD_L = 75, PAD_T = 8, PAD_R = 14, PAD_B = 62

const isDecade = v => Math.abs(Math.log10(v) - Math.round(Math.log10(v))) < 1e-6
const decadeIndex = (v, decs) => decs.findIndex(d => Math.abs(v / d - 1) < 1e-6)
const allTicks = (decs, lo, hi) => {
    const t = []
    decs.forEach(d => [1, ...minorSteps].forEach(m => {
        const v = m * d
        if (v >= lo * 0.9999 && v <= hi * 1.0001) t.push({ value: v })
    }))
    return t
}

// texto con subindices, centrado en x
const drawRich = (ctx, parts, x, y) => {
    let w = 0
    parts.forEach(p => { ctx.font = p.size + 'px ' + FONT; w += ctx.measureText(p.text).width })
    let cx = x - w / 2
    parts.forEach(p => {
        ctx.font = p.size + 'px ' + FONT
        ctx.fillText(p.text, cx, y + (p.dy || 0))
        cx += ctx.measureText(p.text).width
    })
}

const framePlugin = panel => ({
    id: 'frame',
    beforeDatasetsDraw(chart) {
        if (!panel.err) return
        const { ctx, scales: { x, y } } = chart
        ctx.save()
        ctx.strokeStyle = '#b4b4b4'
        ctx.lineWidth = 1.3
        panel.err[0].forEach((l, i) => {
            const px = x.getPixelForValue(l)
            ctx.beginPath()
            ctx.moveTo(px, y.getPixelForValue(panel.err[1][i]))
            ctx.lineTo(px, y.getPixelForValue(panel.err[2][i]))
            ctx.stroke()
        })
        ctx.restore()
    },
    afterDraw(chart) {
        const { ctx, chartArea: { left, right, top, bottom }, scales: { x, y } } = chart
        ctx.save()
        ctx.strokeStyle = '#000'
        ctx.lineWidth = 1.2
        ctx.strokeRect(left, top, right - left, bottom - top)
        ctx.beginPath()
        x.ticks.forEach(t => {
            const px = Math.round(x.getPixelForValue(t.value)) + 0.5
            const len = isDecade(t.value) ? 7 : 4
            ctx.moveTo(px, bottom); ctx.lineTo(px, bottom - len)
            ctx.moveTo(px, top); ctx.lineTo(px, top + len)
        })
        y.ticks.forEach(t => {
            const py = Math.round(y.getPixelForValue(t.value)) + 0.5
            const len = isDecade(t.value) ? 7 : 4
            ctx.moveTo(left, py); ctx.lineTo(left + len, py)
            ctx.moveTo(right, py); ctx.lineTo(right - len, py)
        })
        ctx.stroke()

        ctx.fillStyle = '#000'
        ctx.textBaseline = 'alphabetic'

        // etiquetas del eje y: 10 con exponente
        ctx.textAlign = 'right'
        y.ticks.forEach(t => {
            const i = decadeIndex(t.value, yDecades)
            if (i < 0) return
            const py = y.getPixelForValue(t.value)
            ctx.font = '10.5px ' + FONT
            const ew = ctx.measureText(yDecadeExp[i]).width
            ctx.fillText(yDecadeExp[i], left - 10, py - 3)
            ctx.font = '15px ' + FONT
            ctx.fillText('10', left - 10 - ew - 0.5, py + 6)
        })

        ctx.textAlign = 'left'
        ctx.font = '17.5px ' + FONT
        ctx.fillText(panel.name, left + 11, top + 27)

        drawRich(ctx, [
            { text: 'λ', size: 17.5 },
            { text: 'rest', size: 11.5, dy: 3 },
            { text: '  [μm]', size: 17.5 }
        ], (left + right) / 2, bottom + 51)

        ctx.translate(left - 57, (top + bottom) / 2)
        ctx.rotate(-Math.PI / 2)
        drawRich(ctx, [
            { text: 'νL', size: 17.5 },
            { text: 'ν', size: 12, dy: 4 },
            { text: '  [L', size: 17.5 },
            { text: '⊙', size: 12, dy: 4 },
            { text: ']', size: 17.5 }
        ], 0, 6)
        ctx.restore()
    }
})

const page = document.getElementById('page')

panels.forEach(panel => {
    const [l, t, r, b] = panel.box
    const div = document.createElement('div')
    div.className = 'panel'
    div.style.left = (l - PAD_L) + 'px'
    div.style.top = (t - PAD_T) + 'px'
    div.style.width = (r - l + PAD_L + PAD_R) + 'px'
    div.style.height = (b - t + PAD_T + PAD_B) + 'px'
    const canvas = document.createElement('canvas')
    div.appendChild(canvas)
    page.appendChild(div)

    new Chart(canvas, {
        type: 'scatter',
        data: { datasets: panel.sets },
        options: {
            responsive: true,
            maintainAspectRatio: false,
            animation: false,
            events: [],
            layout: { padding: { top: PAD_T, right: PAD_R, left: 0, bottom: 0 } },
            plugins: { legend: { display: false }, tooltip: { enabled: false } },
            scales: {
                x: {
                    type: 'logarithmic',
                    min: panel.x[0],
                    max: panel.x[1],
                    grid: { display: false, drawTicks: false },
                    border: { display: false },
                    afterBuildTicks: s => { s.ticks = allTicks(xDecades, panel.x[0], panel.x[1]) },
                    afterFit: s => { s.height = PAD_B; s.paddingLeft = 0; s.paddingRight = 0 },
                    ticks: {
                        autoSkip: false,
                        maxRotation: 0,
                        padding: 11,
                        color: '#000',
                        font: { family: FONT, size: 16 },
                        callback: v => {
                            const i = decadeIndex(v, xDecades)
                            return i >= 0 ? xDecadeLabels[i] : ''
                        }
                    }
                },
                y: {
                    type: 'logarithmic',
                    min: panel.y[0],
                    max: panel.y[1],
                    grid: { display: false, drawTicks: false },
                    border: { display: false },
                    afterBuildTicks: s => { s.ticks = allTicks(yDecades, panel.y[0], panel.y[1]) },
                    afterFit: s => { s.width = PAD_L; s.paddingTop = 0; s.paddingBottom = 0 },
                    ticks: { display: false }
                }
            }
        },
        plugins: [framePlugin(panel)]
    })
})
</script>
</body>
</html>
